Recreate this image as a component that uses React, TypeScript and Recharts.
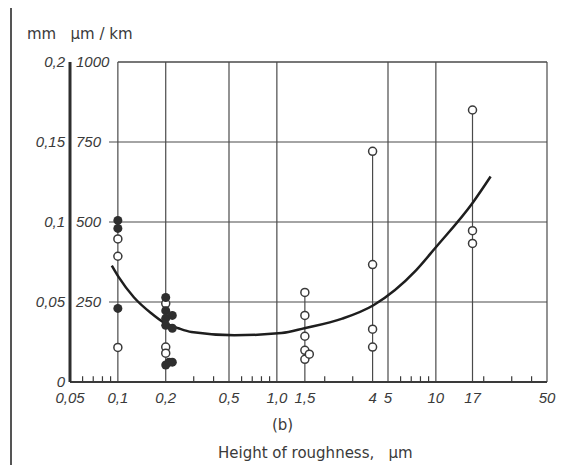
import React from 'react';
import { ComposedChart, Line, Scatter, XAxis, YAxis, ReferenceLine } from 'recharts';

// measured points (x in µm, y in µm/km)
const openPts = [
  { x: 0.1, y: 447 }, { x: 0.1, y: 393 }, { x: 0.1, y: 108 },
  { x: 0.2, y: 245 }, { x: 0.2, y: 109 }, { x: 0.2, y: 90 },
  { x: 1.5, y: 280 }, { x: 1.5, y: 208 }, { x: 1.5, y: 143 }, { x: 1.5, y: 99 }, { x: 1.5, y: 71 }, { x: 1.6, y: 87 },
  { x: 4, y: 721 }, { x: 4, y: 367 }, { x: 4, y: 165 }, { x: 4, y: 109 },
  { x: 17, y: 850 }, { x: 17, y: 473 }, { x: 17, y: 433 },
];

const filledPts = [
  { x: 0.1, y: 505 }, { x: 0.1, y: 480 }, { x: 0.1, y: 230 },
  { x: 0.2, y: 264 }, { x: 0.2, y: 223 }, { x: 0.2, y: 199 }, { x: 0.2, y: 177 },
  { x: 0.22, y: 208 }, { x: 0.22, y: 168 },
  { x: 0.2, y: 53 }, { x: 0.21, y: 62 }, { x: 0.22, y: 62 },
];

// fitted curve
const curvePts = [
  { x: 0.0916, y: 364 }, { x: 0.1015, y: 327 }, { x: 0.126, y: 265 }, { x: 0.162, y: 215 },
  { x: 0.193, y: 187 }, { x: 0.24, y: 168 }, { x: 0.29, y: 156 }, { x: 0.54, y: 146 },
  { x: 1.07, y: 153 }, { x: 1.49, y: 168 }, { x: 2.58, y: 198 }, { x: 4.05, y: 240 },
  { x: 7.5, y: 349 }, { x: 10, y: 421 }, { x: 17.1, y: 561 }, { x: 22.1, y: 642 },
];

const xTicks = [0.05, 0.1, 0.2, 0.5, 1, 1.5, 4, 5, 10, 17, 50];
const xLabels = ['0,05', '0,1', '0,2', '0,5', '1,0', '1,5', '4', '5', '10', '17', '50'];
const minorTicks = [0.06, 0.07, 0.08, 0.09, 0.3, 0.4, 0.6, 0.7, 0.8, 0.9, 2, 3, 6, 7, 8, 9, 20, 30, 40];
const vGrid = [0.1, 0.2, 0.5, 1, 5, 10, 50];
const stemX = [1.5, 4, 17];

const yTicks = [0, 250, 500, 750, 1000];
const yLabelsMm = ['0', '0,05', '0,1', '0,15', '0,2'];
const yLabelsUm = ['', '250', '500', '750', '1000'];

const ink = '#3a3a3a';
const numFont = '"Liberation Sans", Arial, sans-serif';
const textFont = '"DejaVu Sans", sans-serif';

const YTick = (props: any) => {
  const { x, y, payload } = props;
  const i = yTicks.indexOf(payload.value);
  return (
    <g>
      <text x={x - 5} y={y} dy="0.35em" textAnchor="end" fill={ink} fontSize={15} fontStyle="italic" fontFamily={numFont}>
        {yLabelsMm[i]}
      </text>
      {yLabelsUm[i] && (
        <text x={x + 6} y={y} dy="0.35em" textAnchor="start" fill={ink} fontSize={15} fontStyle="italic" fontFamily={numFont}>
          {yLabelsUm[i]}
        </text>
      )}
    </g>
  );
};

const OpenDot = (p: any) => <circle cx={p.cx} cy={p.cy} r={4} fill="#fff" stroke={ink} strokeWidth={1.5} />;
const FilledDot = (p: any) => <circle cx={p.cx} cy={p.cy} r={4.5} fill="#2e2e2e" stroke="none" />;

export default function App() {
  const stemTop = (sx: number) => Math.max(...openPts.filter((p) => p.x === sx).map((p) => p.y));
  return (
    <div style={{ position: 'relative', width: 581, height: 473, margin: -8, overflow: 'hidden', background: '#fff' }}>
      <div style={{ position: 'absolute', left: 10, top: 5, width: 700, height: 600, borderLeft: '2px solid #555', borderTop: '2px solid #555' }} />
      <div style={{ position: 'absolute', left: 27, top: 25, fontFamily: textFont, fontSize: 15, color: ink, whiteSpace: 'pre' }}>
        {'mm   \u00b5m / km'}
      </div>
      <div style={{ position: 'absolute', left: 0, top: 0 }}>
        <ComposedChart width={581} height={473} margin={{ top: 62, right: 34, bottom: 61, left: 10 }}>
          <XAxis
            dataKey="x"
            type="number"
            scale="log"
            domain={[0.05, 50]}
            ticks={xTicks}
            tickFormatter={(v: number) => xLabels[xTicks.indexOf(v)]}
            allowDataOverflow
            height={30}
            tickSize={0}
            tickMargin={10}
            axisLine={{ stroke: ink, strokeWidth: 2 }}
            tickLine={false}
            tick={{ fill: ink, fontSize: 15, fontStyle: 'italic', fontFamily: numFont }}
            interval={0}
          />
          <YAxis
            type="number"
            domain={[0, 1000]}
            ticks={yTicks}
            width={60}
            tickSize={0}
            tickMargin={0}
            axisLine={{ stroke: '#2e2e2e', strokeWidth: 3 }}
            tickLine={false}
            tick={<YTick />}
            interval={0}
          />
          {yTicks.slice(1).map((v) => (
            <ReferenceLine
              key={`h${v}`}
              segment={[{ x: v === 1000 ? 0.1 : 0.088, y: v }, { x: 50, y: v }]}
              stroke="#4a4a4a"
              strokeWidth={v === 1000 ? 1.6 : 1.2}
            />
          ))}
          {vGrid.map((v) => (
            <ReferenceLine key={`v${v}`} segment={[{ x: v, y: 0 }, { x: v, y: 1000 }]} stroke="#4a4a4a" strokeWidth={1.2} />
          ))}
          {stemX.map((v) => (
            <ReferenceLine key={`s${v}`} segment={[{ x: v, y: 0 }, { x: v, y: stemTop(v) }]} stroke="#4a4a4a" strokeWidth={1.2} />
          ))}
          {minorTicks.map((v) => (
            <ReferenceLine key={`m${v}`} segment={[{ x: v, y: 0 }, { x: v, y: 18 }]} stroke={ink} strokeWidth={1.2} />
          ))}
          <Line
            data={curvePts}
            dataKey="y"
            type="monotone"
            stroke="#1e1e1e"
            strokeWidth={2.5}
            dot={false}
            isAnimationActive={false}
          />
          <Scatter data={openPts} dataKey="y" shape={<OpenDot />} isAnimationActive={false} />
          <Scatter data={filledPts} dataKey="y" shape={<FilledDot />} isAnimationActive={false} />
        </ComposedChart>
      </div>
      <div style={{ position: 'absolute', left: 272, top: 416, fontFamily: textFont, fontSize: 15, color: ink }}>
        (b)
      </div>
      <div style={{ position: 'absolute', left: 218, top: 444, fontFamily: textFont, fontSize: 15, color: ink, whiteSpace: 'pre' }}>
        {'Height of roughness,   \u00b5m'}
      </div>
    </div>
  );
}
